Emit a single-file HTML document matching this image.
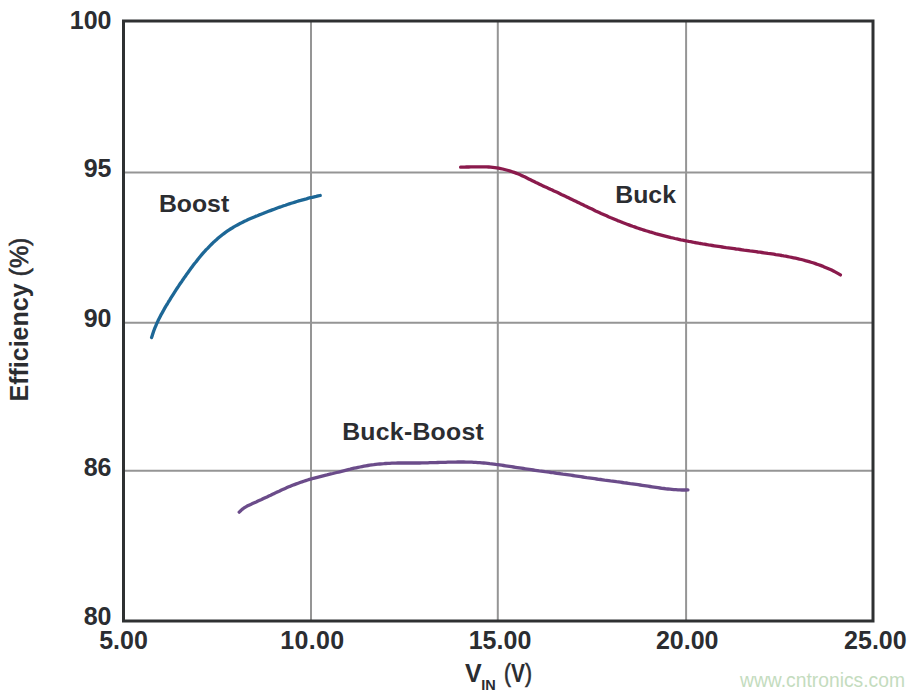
<!DOCTYPE html>
<html><head><meta charset="utf-8"><title>Efficiency vs VIN</title>
<style>
html,body{margin:0;padding:0;background:#fff;}
body{width:924px;height:696px;overflow:hidden;}
svg{display:block;}
text{font-family:"Liberation Sans",Arial,sans-serif;font-weight:bold;fill:#2b2d31;}
.n{font-weight:normal;}
.m{font-weight:normal;stroke:#2b2d31;stroke-width:0.6px;}
</style></head><body>
<svg width="924" height="696" viewBox="0 0 924 696">
<rect x="0" y="0" width="924" height="696" fill="#fff"/>
<g stroke="#959595" stroke-width="2" fill="none">
<line x1="311" y1="22" x2="311" y2="620"/>
<line x1="497.8" y1="22" x2="497.8" y2="620"/>
<line x1="686.1" y1="22" x2="686.1" y2="620"/>
<line x1="125" y1="172.5" x2="872" y2="172.5"/>
<line x1="125" y1="322.8" x2="872" y2="322.8"/>
<line x1="125" y1="470.8" x2="872" y2="470.8"/>
</g>
<rect x="123.5" y="21" width="749.5" height="600" fill="none" stroke="#2f3132" stroke-width="3"/>
<g fill="none" stroke-width="3.3" stroke-linecap="round" stroke-linejoin="round">
<path d="M151.6,337.6 L152.2,335.7 L152.8,333.8 L153.4,331.9 L154.1,330.0 L154.8,328.1 L155.6,326.3 L156.4,324.4 L157.2,322.6 L158.0,320.8 L158.9,319.0 L159.8,317.2 L160.7,315.4 L161.7,313.7 L162.7,311.9 L163.6,310.2 L164.6,308.4 L165.6,306.7 L166.6,305.0 L167.7,303.3 L168.7,301.5 L169.8,299.8 L170.8,298.1 L171.9,296.4 L172.9,294.8 L174.0,293.1 L175.1,291.4 L176.2,289.7 L177.3,288.0 L178.4,286.4 L179.5,284.7 L180.6,283.0 L181.8,281.4 L182.9,279.7 L184.0,278.1 L185.2,276.5 L186.3,274.8 L187.5,273.2 L188.7,271.6 L189.8,269.9 L191.0,268.3 L192.2,266.7 L193.4,265.1 L194.6,263.5 L195.9,262.0 L197.1,260.4 L198.4,258.8 L199.6,257.3 L200.9,255.7 L202.2,254.2 L203.5,252.7 L204.9,251.2 L206.2,249.7 L207.6,248.3 L209.0,246.8 L210.4,245.4 L211.8,244.0 L213.2,242.6 L214.7,241.3 L216.2,239.9 L217.7,238.6 L219.2,237.3 L220.8,236.0 L222.3,234.8 L223.9,233.6 L225.5,232.4 L227.2,231.2 L228.8,230.1 L230.5,229.0 L232.2,228.0 L233.9,226.9 L235.7,225.9 L237.4,225.0 L239.2,224.0 L241.0,223.1 L242.7,222.2 L244.5,221.3 L246.3,220.5 L248.2,219.6 L250.0,218.8 L251.8,218.0 L253.7,217.2 L255.5,216.4 L257.4,215.7 L259.2,214.9 L261.1,214.2 L262.9,213.5 L264.8,212.7 L266.7,212.0 L268.5,211.3 L270.4,210.6 L272.3,209.9 L274.2,209.2 L276.0,208.5 L277.9,207.8 L279.8,207.1 L281.7,206.5 L283.6,205.8 L285.5,205.2 L287.4,204.5 L289.3,203.9 L291.2,203.3 L293.1,202.7 L295.0,202.1 L296.9,201.5 L298.8,200.9 L300.7,200.4 L302.7,199.8 L304.6,199.3 L306.5,198.8 L308.5,198.2 L310.4,197.7 L312.3,197.3 L314.3,196.8 L316.2,196.4 L318.2,195.9 L320.2,195.5" stroke="#1d6796"/>
<path d="M460.6,167.2 L462.6,167.1 L464.6,167.1 L466.6,167.0 L468.7,167.0 L470.7,166.9 L472.7,166.8 L474.7,166.8 L476.7,166.8 L478.7,166.8 L480.7,166.8 L482.7,166.8 L484.7,166.8 L486.7,166.9 L488.7,167.0 L490.7,167.2 L492.7,167.4 L494.7,167.6 L496.6,167.9 L498.6,168.2 L500.6,168.6 L502.6,169.0 L504.5,169.5 L506.4,170.0 L508.4,170.5 L510.3,171.1 L512.2,171.7 L514.1,172.4 L516.0,173.1 L517.8,173.8 L519.7,174.6 L521.5,175.4 L523.3,176.3 L525.1,177.1 L526.9,178.0 L528.7,178.9 L530.5,179.8 L532.3,180.7 L534.1,181.6 L535.9,182.5 L537.7,183.3 L539.5,184.2 L541.3,185.1 L543.1,185.9 L544.9,186.8 L546.8,187.6 L548.6,188.4 L550.4,189.3 L552.2,190.1 L554.0,191.0 L555.9,191.8 L557.7,192.6 L559.5,193.5 L561.3,194.4 L563.1,195.2 L564.9,196.1 L566.7,196.9 L568.5,197.8 L570.3,198.7 L572.1,199.6 L573.9,200.4 L575.8,201.3 L577.6,202.2 L579.4,203.1 L581.2,203.9 L583.0,204.8 L584.8,205.7 L586.6,206.5 L588.4,207.4 L590.2,208.3 L592.0,209.1 L593.8,210.0 L595.6,210.9 L597.4,211.7 L599.2,212.5 L601.1,213.4 L602.9,214.2 L604.7,215.0 L606.6,215.8 L608.4,216.7 L610.2,217.5 L612.1,218.2 L613.9,219.0 L615.8,219.8 L617.6,220.6 L619.5,221.3 L621.3,222.0 L623.2,222.8 L625.1,223.5 L627.0,224.2 L628.8,224.9 L630.7,225.6 L632.6,226.3 L634.5,226.9 L636.4,227.6 L638.3,228.2 L640.2,228.9 L642.1,229.5 L644.0,230.1 L645.9,230.7 L647.8,231.3 L649.7,231.9 L651.7,232.4 L653.6,233.0 L655.5,233.6 L657.4,234.1 L659.4,234.6 L661.3,235.1 L663.2,235.6 L665.2,236.1 L667.1,236.6 L669.1,237.1 L671.0,237.6 L673.0,238.0 L674.9,238.5 L676.9,238.9 L678.8,239.3 L680.8,239.8 L682.8,240.2 L684.7,240.6 L686.7,241.0 L688.7,241.4 L690.6,241.7 L692.6,242.1 L694.6,242.5 L696.5,242.8 L698.5,243.2 L700.5,243.5 L702.5,243.9 L704.4,244.2 L706.4,244.5 L708.4,244.9 L710.4,245.2 L712.3,245.5 L714.3,245.8 L716.3,246.1 L718.3,246.4 L720.3,246.7 L722.2,247.0 L724.2,247.3 L726.2,247.6 L728.2,247.8 L730.2,248.1 L732.2,248.4 L734.1,248.7 L736.1,249.0 L738.1,249.2 L740.1,249.5 L742.1,249.8 L744.1,250.1 L746.1,250.3 L748.0,250.6 L750.0,250.9 L752.0,251.1 L754.0,251.4 L756.0,251.7 L758.0,252.0 L760.0,252.2 L761.9,252.5 L763.9,252.8 L765.9,253.1 L767.9,253.4 L769.9,253.6 L771.9,253.9 L773.8,254.2 L775.8,254.6 L777.8,254.9 L779.8,255.2 L781.7,255.5 L783.7,255.9 L785.7,256.2 L787.7,256.6 L789.6,257.0 L791.6,257.4 L793.6,257.8 L795.5,258.2 L797.5,258.6 L799.4,259.1 L801.4,259.5 L803.3,260.0 L805.3,260.6 L807.2,261.1 L809.1,261.6 L811.0,262.2 L812.9,262.8 L814.8,263.4 L816.7,264.1 L818.6,264.7 L820.5,265.4 L822.4,266.1 L824.2,266.9 L826.1,267.7 L827.9,268.5 L829.8,269.3 L831.6,270.1 L833.4,271.0 L835.1,271.9 L836.9,272.9 L838.7,273.9 L840.4,274.9" stroke="#8a1a4c"/>
<path d="M239.2,512.2 L240.6,510.8 L242.1,509.4 L243.7,508.2 L245.4,507.1 L247.1,506.1 L248.9,505.2 L250.7,504.4 L252.5,503.6 L254.3,502.8 L256.2,502.0 L258.0,501.1 L259.8,500.3 L261.6,499.5 L263.4,498.6 L265.2,497.7 L267.0,496.9 L268.8,496.0 L270.7,495.2 L272.5,494.3 L274.3,493.4 L276.1,492.6 L277.9,491.7 L279.7,490.9 L281.5,490.0 L283.3,489.2 L285.2,488.4 L287.0,487.6 L288.8,486.8 L290.7,486.1 L292.5,485.3 L294.4,484.6 L296.3,483.9 L298.2,483.2 L300.0,482.5 L301.9,481.9 L303.8,481.2 L305.7,480.6 L307.6,480.0 L309.5,479.4 L311.5,478.9 L313.4,478.3 L315.3,477.8 L317.3,477.3 L319.2,476.8 L321.1,476.3 L323.1,475.8 L325.0,475.3 L327.0,474.9 L328.9,474.4 L330.9,473.9 L332.8,473.5 L334.7,473.0 L336.7,472.5 L338.6,472.1 L340.6,471.6 L342.5,471.1 L344.5,470.6 L346.4,470.1 L348.3,469.6 L350.3,469.2 L352.2,468.7 L354.2,468.2 L356.1,467.8 L358.1,467.4 L360.0,467.0 L362.0,466.6 L364.0,466.2 L365.9,465.8 L367.9,465.5 L369.9,465.2 L371.9,464.9 L373.8,464.7 L375.8,464.4 L377.8,464.2 L379.8,464.0 L381.8,463.8 L383.8,463.7 L385.8,463.5 L387.8,463.4 L389.8,463.3 L391.8,463.2 L393.8,463.1 L395.8,463.1 L397.8,463.0 L399.8,463.0 L401.8,463.0 L403.8,463.0 L405.8,463.0 L407.8,463.0 L409.8,463.0 L411.8,463.0 L413.8,463.0 L415.8,463.0 L417.8,463.0 L419.8,463.0 L421.8,462.9 L423.8,462.9 L425.8,462.8 L427.8,462.8 L429.8,462.7 L431.8,462.7 L433.8,462.6 L435.8,462.6 L437.8,462.5 L439.8,462.4 L441.8,462.4 L443.8,462.3 L445.8,462.3 L447.8,462.2 L449.8,462.2 L451.8,462.1 L453.8,462.1 L455.8,462.1 L457.8,462.0 L459.8,462.0 L461.8,462.0 L463.8,462.0 L465.8,462.1 L467.8,462.1 L469.8,462.2 L471.8,462.2 L473.8,462.3 L475.8,462.4 L477.8,462.6 L479.8,462.7 L481.8,462.9 L483.7,463.0 L485.7,463.2 L487.7,463.4 L489.7,463.7 L491.7,463.9 L493.7,464.1 L495.7,464.4 L497.7,464.6 L499.6,464.9 L501.6,465.2 L503.6,465.5 L505.6,465.8 L507.6,466.1 L509.5,466.4 L511.5,466.7 L513.5,467.0 L515.5,467.3 L517.4,467.6 L519.4,467.9 L521.4,468.2 L523.4,468.5 L525.3,468.8 L527.3,469.1 L529.3,469.4 L531.3,469.7 L533.3,470.0 L535.2,470.3 L537.2,470.6 L539.2,470.9 L541.2,471.1 L543.2,471.4 L545.1,471.7 L547.1,471.9 L549.1,472.2 L551.1,472.5 L553.1,472.7 L555.1,473.0 L557.0,473.3 L559.0,473.5 L561.0,473.8 L563.0,474.1 L565.0,474.3 L566.9,474.6 L568.9,474.9 L570.9,475.2 L572.9,475.5 L574.9,475.8 L576.8,476.1 L578.8,476.4 L580.8,476.7 L582.8,477.0 L584.8,477.3 L586.7,477.6 L588.7,477.8 L590.7,478.1 L592.7,478.4 L594.7,478.7 L596.6,479.0 L598.6,479.3 L600.6,479.5 L602.6,479.8 L604.6,480.1 L606.5,480.3 L608.5,480.6 L610.5,480.9 L612.5,481.1 L614.5,481.4 L616.5,481.7 L618.4,481.9 L620.4,482.2 L622.4,482.5 L624.4,482.8 L626.4,483.0 L628.3,483.3 L630.3,483.6 L632.3,483.8 L634.3,484.1 L636.3,484.4 L638.2,484.7 L640.2,485.0 L642.2,485.3 L644.2,485.6 L646.2,485.9 L648.1,486.2 L650.1,486.5 L652.1,486.8 L654.1,487.1 L656.0,487.4 L658.0,487.7 L660.0,488.0 L662.0,488.3 L664.0,488.5 L666.0,488.8 L667.9,489.0 L669.9,489.2 L671.9,489.4 L673.9,489.6 L675.9,489.7 L677.9,489.8 L679.9,489.9 L681.9,490.0 L683.9,490.0 L685.9,490.0 L687.9,489.9" stroke="#6b4c8a"/>
</g>
<g font-size="25" text-anchor="end">
<text x="111.5" y="28.5">100</text>
<text x="111.5" y="177.3">95</text>
<text x="111.5" y="326.5">90</text>
<text x="111.5" y="476">86</text>
<text x="111.5" y="624.6">80</text>
</g>
<g font-size="25" text-anchor="middle">
<text x="123.5" y="648.5">5.00</text>
<text x="312.2" y="648.5" textLength="63.8">10.00</text>
<text x="500" y="648.5">15.00</text>
<text x="687.2" y="648.5">20.00</text>
<text x="875.4" y="648.5">25.00</text>
</g>
<text font-size="25" x="465" y="681.7">V</text>
<text font-size="14.5" x="481.2" y="689.5">IN</text>
<text font-size="25" x="504" y="681.7" textLength="28" lengthAdjust="spacingAndGlyphs"><tspan class="m">(</tspan>V<tspan class="m">)</tspan></text>
<text font-size="25" transform="translate(28,401.5) rotate(-90)">Efficiency <tspan class="m">(%)</tspan></text>
<g font-size="24.8">
<text x="158.9" y="211.5">Boost</text>
<text x="615.3" y="202.9">Buck</text>
<text x="342.2" y="439.8" textLength="141.5">Buck-Boost</text>
</g>
<text x="740" y="686.9" font-size="19.3" class="n" style="fill:#c4dcbe">www.cntronics.com</text>
</svg>
</body></html>
